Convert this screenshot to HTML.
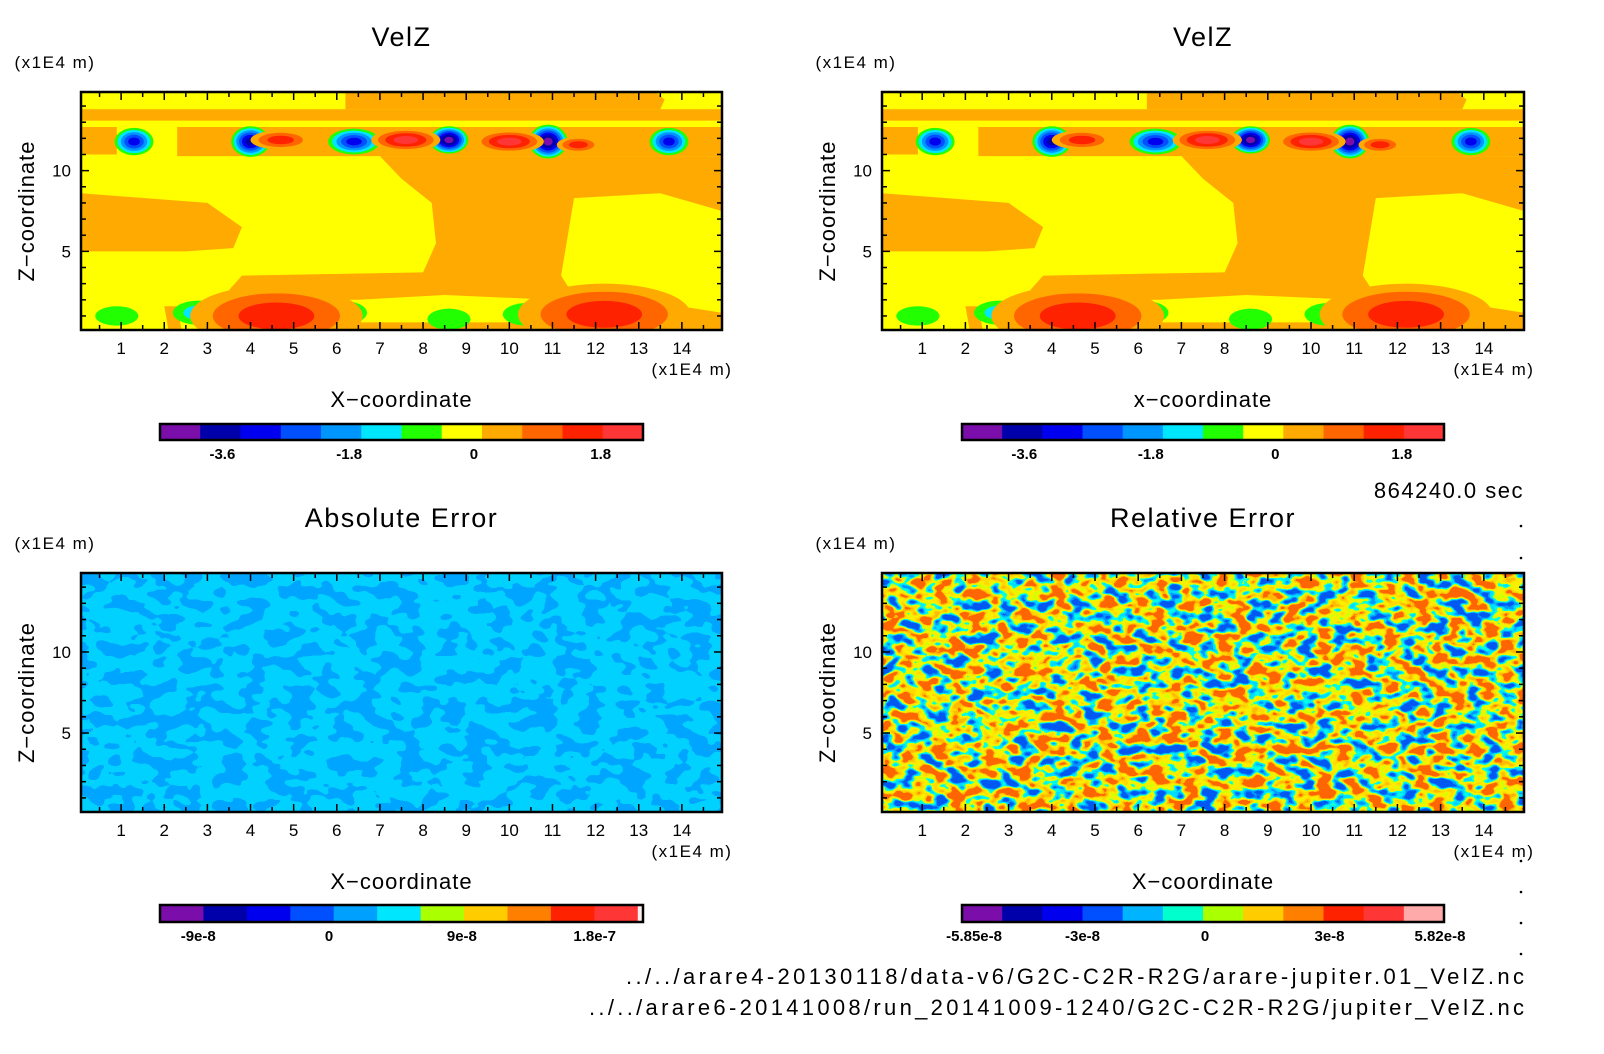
<!DOCTYPE html>
<html><head><meta charset="utf-8"><style>
html,body{margin:0;padding:0;background:#fff;}
svg{display:block;font-family:"Liberation Sans",sans-serif;}
</style></head><body>
<svg id="root" width="1604" height="1054" viewBox="0 0 1604 1054" xmlns="http://www.w3.org/2000/svg">
<defs>
<filter id="noiseA" x="0" y="0" width="100%" height="100%">
<feTurbulence type="fractalNoise" baseFrequency="0.045 0.07" numOctaves="2" seed="3"/>
<feColorMatrix type="matrix" values="1 0 0 0 0 1 0 0 0 0 1 0 0 0 0 0 0 0 0 1"/>
<feComponentTransfer><feFuncR type="linear" slope="3" intercept="-1"/><feFuncG type="linear" slope="3" intercept="-1"/><feFuncB type="linear" slope="3" intercept="-1"/><feFuncA type="table" tableValues="1 1"/></feComponentTransfer>
<feComponentTransfer>
<feFuncR type="discrete" tableValues="0 0 0 0 0"/>
<feFuncG type="discrete" tableValues="0.38 0.38 0.64 0.64 0.64"/>
<feFuncB type="discrete" tableValues="1 1 1 1 1"/>
</feComponentTransfer>
</filter>
<filter id="noiseB" x="0" y="0" width="100%" height="100%">
<feTurbulence type="fractalNoise" baseFrequency="0.06 0.09" numOctaves="2" seed="7"/>
<feColorMatrix type="matrix" values="1 0 0 0 0 1 0 0 0 0 1 0 0 0 0 0 0 0 0 1"/>
<feComponentTransfer><feFuncR type="linear" slope="2.6" intercept="-0.8"/><feFuncG type="linear" slope="2.6" intercept="-0.8"/><feFuncB type="linear" slope="2.6" intercept="-0.8"/><feFuncA type="table" tableValues="1 1"/></feComponentTransfer>
<feComponentTransfer>
<feFuncR type="discrete" tableValues="0 0 0 0 0.67 1 1 1 1 1"/>
<feFuncG type="discrete" tableValues="0.1 0.31 0.7 1 1 0.85 0.7 0.5 0.13 0.13"/>
<feFuncB type="discrete" tableValues="0.9 1 1 0.8 0 0 0 0 0 0"/>
</feComponentTransfer>
</filter>
<clipPath id="clipTL"><rect x="81" y="92" width="641" height="238"/></clipPath>
<clipPath id="clipTR"><rect x="882" y="92" width="642" height="238"/></clipPath>
</defs>
</svg>
<script>
// ---- data ----
const xTicks=[1,2,3,4,5,6,7,8,9,10,11,12,13,14];
const yTicks=[5,10];
const blobX=[1.3,4.0,6.4,8.6,10.9,13.7,7.6,10.0,4.7,11.6,0.9,2.8,6.1,8.6,10.4,13.4,4.6,12.2];
const blobZ=[11.8,11.8,11.8,11.9,11.8,11.8,11.9,11.8,11.9,11.6,1.0,1.2,1.2,0.8,1.1,1.1,1.0,1.1];
const blobRx=[0.45,0.45,0.6,0.45,0.45,0.45,0.8,0.8,0.7,0.5,0.5,0.6,0.6,0.5,0.55,0.6,2.0,2.0];
const blobRz=[0.85,0.95,0.8,0.85,1.05,0.85,0.7,0.7,0.6,0.5,0.6,0.75,0.75,0.65,0.7,0.7,1.9,1.9];
const blobAmp=[-3.4,-3.9,-3.2,-4.3,-4.5,-3.2,2.2,2.0,1.4,1.6,-1.1,-1.3,-1.0,-1.0,-1.0,-1.0,1.75,1.75];
// orange (0..0.6) regions as data-coordinate polygons
const regX=[[0.07,3.0,3.8,3.6,2.5,0.07],
 [6.2,13.4,13.6,13.5,6.2],
 [0.07,14.93,14.93,0.07],
 [0.07,0.9,0.9,0.07],
 [2.3,14.93,14.93,2.3],
 [3.0,7.0,7.5,8.2,8.3,8.0,3.8,3.5,5.0,6.5,8.5,11.0,13.0,14.93,14.93,12.0,11.2,11.5,13.5,14.93,14.93,3.0],
 [2.0,2.3,2.4,2.1],
 [3.0,14.93,14.93,3.4]];
const regZ=[[8.6,8.0,6.5,5.2,5.0,5.0],
 [14.87,14.87,14.4,13.8,13.8],
 [13.8,13.8,13.1,13.1],
 [12.7,12.7,11.0,11.0],
 [12.7,12.7,10.9,10.9],
 [10.9,10.9,9.5,8.0,5.5,3.7,3.5,2.6,2.0,2.0,2.3,2.0,2.0,1.2,0.13,0.13,3.5,8.3,8.6,7.5,10.9,10.9],
 [1.6,1.6,0.13,0.13],
 [0.6,0.6,0.13,0.13]];
const topLevels=[-4.8,-4.2,-3.6,-3.0,-2.4,-1.8,-1.2,-0.6,0,0.6,1.2,1.8];
const topColors=["#7b0dab","#0000aa","#0000ee","#0050ff","#0096ff","#00e6ff","#22ff00","#ffff00","#ffaa00","#ff6600","#ff2200","#ff3636"];
const topCbLabels=["-3.6","-1.8","0","1.8"];
const topCbPos=[1.55,4.7,7.8,10.95];
const absColors=["#7b0dab","#0000aa","#0000ee","#0050ff","#00a0ff","#00e6ff","#aaff00","#ffcc00","#ff8000","#ff2200","#ff3636","#ffeeee"];
const absWidths=[1,1,1,1,1,1,1,1,1,1,1,0.12];
const absCbLabels=["-9e-8","0","9e-8","1.8e-7"];
const absCbPos=[0.95,4.2,7.5,10.8];
const relColors=["#7b0dab","#0000aa","#0000ee","#0050ff","#00b4ff","#00ffcc","#aaff00","#ffcc00","#ff8000","#ff2200","#ff3636","#ffaaaa"];
const relCbLabels=["-5.85e-8","-3e-8","0","3e-8","5.82e-8"];
const relCbPos=[0.3,3.0,6.05,9.15,11.9];

const NS="http://www.w3.org/2000/svg";
const root=document.getElementById('root');
function mk(tag,attrs,parent){const e=document.createElementNS(NS,tag);for(const k in attrs)e.setAttribute(k,attrs[k]);(parent||root).appendChild(e);return e;}
function txt(s,x,y,size,anchor,parent,extra){const t=mk('text',Object.assign({x:x,y:y,'font-size':size,'text-anchor':anchor||'middle',fill:'#000'},extra||{}),parent);t.textContent=s;return t;}

const X0=0.07,X1=14.93,Z0=0.13,Z1=14.87;
function makeAxes(L,R,T,B){return {x:v=>L+(v-X0)/(X1-X0)*(R-L),y:v=>B-(v-Z0)/(Z1-Z0)*(B-T),L:L,R:R,T:T,B:B};}

function colorFor(v){let i=0;for(let k=0;k<topLevels.length;k++){if(v>=topLevels[k])i=k;}return topColors[i];}

function drawVelZ(ax,clip,name){
  const g=mk('g',{'clip-path':'url(#'+clip+')'});
  
  
  const bg=mk('rect',{x:ax.L,y:ax.T,width:ax.R-ax.L,height:ax.B-ax.T,fill:'#ffff00'},g);
  
  
  for(let r=0;r<regX.length;r++){
    const pts=regX[r].map((xv,i)=>ax.x(xv)+','+ax.y(regZ[r][i])).join(' ');
    const p=mk('polygon',{points:pts,fill:'#ffaa00'},g);
    
    
  }
  for(let b=0;b<blobX.length;b++){
    const A=blobAmp[b];const neg=A<0;
    const levels=[];
    if(neg){for(let lv=-0.6;lv>A;lv-=0.6)levels.push(lv);}
    else{for(let lv=0;lv<A;lv+=0.6)levels.push(lv);}
    const n=levels.length;
    levels.forEach((lv,k)=>{
      const f=Math.pow(1-k/n,0.75);
      const c=colorFor(neg?lv-0.001:lv+0.001);
      const e=mk('ellipse',{cx:ax.x(blobX[b]),cy:ax.y(blobZ[b]),rx:(ax.x(blobRx[b]*f)-ax.x(0)),ry:(ax.y(0)-ax.y(blobRz[b]*f)),fill:c},g);
      
      
    });
  }
}

function frame(ax,name){
  const g=mk('g',{});
  
  
  mk('rect',{x:ax.L,y:ax.T,width:ax.R-ax.L,height:ax.B-ax.T,fill:'none',stroke:'#000','stroke-width':2.5},g);
  for(let v=0.5;v<15;v+=0.5){
    const len=(v%1===0)?8:5;const x=ax.x(v);
    mk('line',{x1:x,y1:ax.B,x2:x,y2:ax.B-len,stroke:'#000','stroke-width':1.5},g);
    mk('line',{x1:x,y1:ax.T,x2:x,y2:ax.T+len,stroke:'#000','stroke-width':1.5},g);
  }
  for(let v=1;v<15;v+=1){
    const len=(v%5===0)?8:5;const y=ax.y(v);
    mk('line',{x1:ax.L,y1:y,x2:ax.L+len,y2:y,stroke:'#000','stroke-width':1.5},g);
    mk('line',{x1:ax.R,y1:y,x2:ax.R-len,y2:y,stroke:'#000','stroke-width':1.5},g);
  }
  xTicks.forEach(v=>{const t=txt(String(v),ax.x(v),ax.B+24,17,'middle',g);});
  yTicks.forEach(v=>{const t=txt(String(v),ax.L-10,ax.y(v)+6,17,'end',g);});
  const u=txt('(x1E4 m)',ax.R-30,ax.B+45,17,'middle',g,{'letter-spacing':'1.5'});
  const u2=txt('(x1E4 m)',ax.L-26,ax.T-24,17,'middle',g,{'letter-spacing':'1.5'});
}

function panelText(ax,title,xlab,name){
  const cx=(ax.L+ax.R)/2;
  const t=txt(title,cx,ax.T-46,27,'middle',null,{'letter-spacing':'1.5'});
  const xl=txt(xlab,cx,ax.B+77,22,'middle',null,{'letter-spacing':'1'});
  const yl=txt('Z\u2212coordinate',0,0,22,'middle',null,{'letter-spacing':'1',transform:'translate('+(ax.L-47)+','+((ax.T+ax.B)/2)+') rotate(-90)'});
  
}

function colorbar(L,R,T,B,colors,widths,labels,pos,name){
  const g=mk('g',{});
  
  
  const tot=widths.reduce((a,b)=>a+b,0);const unit=(R-L)/tot;let x=L;
  colors.forEach((c,i)=>{const r=mk('rect',{x:x,y:T,width:unit*widths[i]+0.5,height:B-T,fill:c},g);x+=unit*widths[i];});
  mk('rect',{x:L,y:T,width:R-L,height:B-T,fill:'none',stroke:'#000','stroke-width':2.5},g);
  const cu=(R-L)/12;
  labels.forEach((s,i)=>{const t=txt(s,L+pos[i]*cu,B+19,15,'middle',g,{'font-weight':'bold'});});
}

const axTL=makeAxes(81,722,92,330), axTR=makeAxes(882,1524,92,330);
const axBL=makeAxes(81,722,573,812), axBR=makeAxes(882,1524,573,812);
drawVelZ(axTL,'clipTL','velz-left');
drawVelZ(axTR,'clipTR','velz-right');
const nA=mk('rect',{x:81,y:573,width:641,height:239,filter:'url(#noiseA)'});


const nB=mk('rect',{x:882,y:573,width:642,height:239,filter:'url(#noiseB)'});


frame(axTL,'velz-left');frame(axTR,'velz-right');frame(axBL,'abs-error');frame(axBR,'rel-error');
panelText(axTL,'VelZ','X\u2212coordinate','velz-left');
panelText(axTR,'VelZ','x\u2212coordinate','velz-right');
panelText(axBL,'Absolute Error','X\u2212coordinate','abs-error');
panelText(axBR,'Relative Error','X\u2212coordinate','rel-error');
const ones=[1,1,1,1,1,1,1,1,1,1,1,1];
colorbar(160,643,424,440,topColors,ones,topCbLabels,topCbPos,'colorbar-velz-left');
colorbar(962,1444,424,440,topColors,ones,topCbLabels,topCbPos,'colorbar-velz-right');
colorbar(160,643,905,922,absColors,absWidths,absCbLabels,absCbPos,'colorbar-abs-error');
colorbar(962,1444,905,922,relColors,ones,relCbLabels,relCbPos,'colorbar-rel-error');
const tm=txt('864240.0 sec',1524,498,22,'end',null,{'letter-spacing':'1.5'});
const p1=txt('../../arare4-20130118/data-v6/G2C-C2R-R2G/arare-jupiter.01_VelZ.nc',1524,984,22,'end',null,{textLength:'898',lengthAdjust:'spacing'});
const p2=txt('../../arare6-20141008/run_20141009-1240/G2C-C2R-R2G/jupiter_VelZ.nc',1524,1015,22,'end',null,{textLength:'935',lengthAdjust:'spacing'});
[526,558,861,892,923,954].forEach(y=>{const d=mk('circle',{cx:1521,cy:y,r:1.3,fill:'#000'});});
</script>
</body></html>
